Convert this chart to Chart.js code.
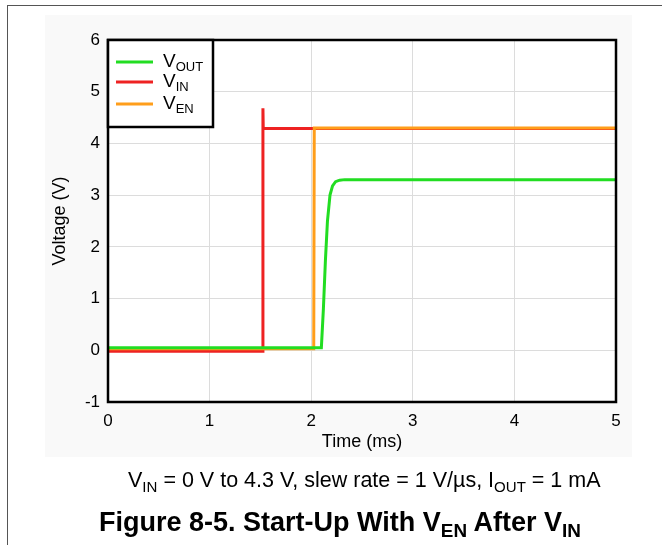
<!DOCTYPE html>
<html>
<head>
<meta charset="utf-8">
<script src="https://cdn.jsdelivr.net/npm/chart.js@4.4.1/dist/chart.umd.min.js"></script>
<style>
  html, body { margin: 0; padding: 0; background: #fff; }
  body { width: 662px; height: 545px; position: relative; overflow: hidden; font-family: "Liberation Sans", Arial, sans-serif; }
  #frame { position: absolute; left: 7px; top: 5px; right: -10px; bottom: -10px; border-left: 1.5px solid #555; border-top: 1.5px solid #555; }
  #plotBg { position: absolute; left: 45px; top: 15px; width: 587px; height: 442px; background: #f9f9f9; }
  #wrap { position: absolute; left: 0; top: 0; width: 662px; height: 545px; }
  .cap { position: absolute; white-space: nowrap; color: #000; }
  .cap sub { font-size: 0.7em; vertical-align: -0.33em; line-height: 0; }
  #note { left: 128px; top: 468px; font-size: 21.5px; }
  #title { left: 99px; top: 507px; font-size: 27px; font-weight: bold; }
</style>
</head>
<body>
<div id="frame"></div>
<div id="plotBg"></div>
<div id="wrap"><canvas id="startupChart" width="662" height="545"></canvas></div>
<div class="cap" id="note">V<sub>IN</sub> = 0 V to 4.3 V, slew rate = 1 V/µs, I<sub>OUT</sub> = 1 mA</div>
<div class="cap" id="title">Figure 8-5. Start-Up With V<sub>EN</sub> After V<sub>IN</sub></div>

<script>
// values (time in ms, voltage in V)
const voutTime = [0, 2.1, 2.12, 2.14, 2.16, 2.185, 2.21, 2.24, 2.28, 2.33, 5];
const voutVolt = [0.05, 0.05, 0.8, 1.74, 2.5, 3.0, 3.18, 3.26, 3.29, 3.3, 3.3];

const vinTime = [0, 1.522, 1.525, 1.528, 5];
const vinVolt = [-0.02, -0.02, 4.68, 4.29, 4.29];

const venTime = [0, 2.025, 2.03, 5];
const venVolt = [0.03, 0.03, 4.3, 4.3];

const xTicks = [0, 1, 2, 3, 4, 5];
const yTicks = [-1, 0, 1, 2, 3, 4, 5, 6];

const seriesNames = [['V', 'OUT'], ['V', 'IN'], ['V', 'EN']];
const seriesColors = ['#22dd22', '#ee2222', '#ff9e1b'];

function toPoints(xs, ys) {
    return xs.map((x, i) => ({ x: x, y: ys[i] }));
}

const FONT = '"Liberation Sans", Arial, sans-serif';

// white plot area + black frame
const plotFrame = {
    id: 'plotFrame',
    beforeDraw(chart) {
        const { ctx, chartArea: a } = chart;
        ctx.save();
        ctx.fillStyle = '#fff';
        ctx.fillRect(a.left, a.top, a.right - a.left, a.bottom - a.top);
        ctx.restore();
    },
    afterDatasetsDraw(chart) {
        const { ctx, chartArea: a } = chart;
        ctx.save();
        ctx.strokeStyle = '#000';
        ctx.lineWidth = 2.5;
        ctx.strokeRect(a.left, a.top, a.right - a.left, a.bottom - a.top);
        ctx.restore();
    }
};

// legend box with subscripts, top-left inside the plot
const subLegend = {
    id: 'subLegend',
    afterDatasetsDraw(chart) {
        const { ctx, chartArea: a } = chart;
        const boxW = 105, boxH = 87;
        const rows = [22, 42, 64];
        ctx.save();
        ctx.fillStyle = '#fff';
        ctx.fillRect(a.left, a.top, boxW, boxH);
        ctx.strokeStyle = '#000';
        ctx.lineWidth = 2.5;
        ctx.strokeRect(a.left, a.top, boxW, boxH);
        seriesNames.forEach((name, i) => {
            const y = a.top + rows[i];
            ctx.strokeStyle = seriesColors[i];
            ctx.lineWidth = 3;
            ctx.beginPath();
            ctx.moveTo(a.left + 8, y);
            ctx.lineTo(a.left + 45, y);
            ctx.stroke();
            ctx.fillStyle = '#000';
            ctx.textBaseline = 'middle';
            ctx.font = '19px ' + FONT;
            ctx.fillText(name[0], a.left + 55, y);
            const w = ctx.measureText(name[0]).width;
            ctx.font = '13px ' + FONT;
            ctx.fillText(name[1], a.left + 55 + w, y + 5);
        });
        ctx.restore();
    }
};

new Chart(document.getElementById('startupChart'), {
    type: 'line',
    data: {
        datasets: [
            { label: 'VOUT', data: toPoints(voutTime, voutVolt), borderColor: seriesColors[0], order: 0 },
            { label: 'VIN', data: toPoints(vinTime, vinVolt), borderColor: seriesColors[1], order: 2 },
            { label: 'VEN', data: toPoints(venTime, venVolt), borderColor: seriesColors[2], order: 1 }
        ]
    },
    options: {
        responsive: false,
        animation: false,
        parsing: false,
        elements: {
            point: { radius: 0 },
            line: { borderWidth: 3, tension: 0 }
        },
        layout: { padding: { left: 45, top: 40, right: 46, bottom: 88 } },
        plugins: {
            legend: { display: false },
            tooltip: { enabled: false }
        },
        scales: {
            x: {
                type: 'linear',
                min: 0,
                max: 5,
                afterBuildTicks: (scale) => { scale.ticks = xTicks.map(v => ({ value: v })); },
                afterFit: (scale) => { scale.height = 55; },
                grid: { color: '#dcdcdc', lineWidth: 1, drawTicks: false },
                border: { display: false },
                ticks: { color: '#000', padding: 9, font: { family: FONT, size: 17 } },
                title: { display: true, text: 'Time (ms)', color: '#000', padding: { top: 0, bottom: 4 }, font: { family: FONT, size: 18 } }
            },
            y: {
                type: 'linear',
                min: -1,
                max: 6,
                afterBuildTicks: (scale) => { scale.ticks = yTicks.map(v => ({ value: v })); },
                afterFit: (scale) => { scale.width = 63; },
                grid: { color: '#dcdcdc', lineWidth: 1, drawTicks: false },
                border: { display: false },
                ticks: { color: '#000', padding: 8, font: { family: FONT, size: 17 } },
                title: { display: true, text: 'Voltage (V)', color: '#000', padding: { top: 4, bottom: 0 }, font: { family: FONT, size: 18 } }
            }
        }
    },
    plugins: [plotFrame, subLegend]
});
</script>
</body>
</html>
